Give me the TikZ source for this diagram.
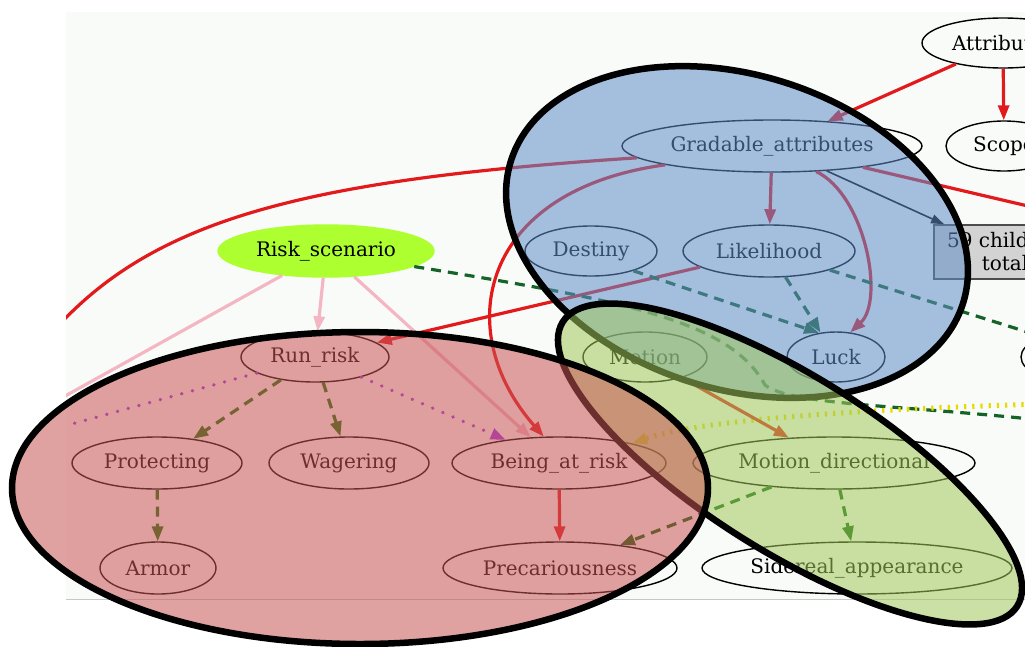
\documentclass[tikz,border=0pt]{standalone}
\usepackage{fontspec}
\setmainfont{DejaVu Serif}
\usetikzlibrary{arrows.meta,shapes.geometric}
\definecolor{gvred}{HTML}{E31A1C}
\definecolor{gvpink}{HTML}{F4B6C2}
\definecolor{gvdkgreen}{HTML}{146428}
\definecolor{gvgreen}{HTML}{0A640A}
\definecolor{gvolive}{HTML}{147308}
\definecolor{gvmagenta}{HTML}{A032E6}
\definecolor{gvyellow}{HTML}{E6DA00}
\definecolor{gvlime}{HTML}{ADFF2F}
\definecolor{gvgrey}{HTML}{D3D3D3}
\definecolor{gvpaper}{HTML}{F9FBF9}
\definecolor{ovred}{RGB}{200,85,85}
\definecolor{ovblue}{RGB}{95,140,200}
\definecolor{ovgreen}{RGB}{160,200,90}
\tikzset{
  gv node/.style={ellipse, draw=black, line width=1.4pt, inner sep=0pt, text=black,
    font=\fontsize{20}{24}\selectfont},
  gv box/.style={rectangle, draw=black!70, fill=gvgrey, line width=1.4pt, inner sep=2pt,
    align=center, text=black, font=\fontsize{20}{23}\selectfont},
  gv line/.style={line width=3.2pt},
  gv edge/.style={gv line, -{Triangle[length=15pt,width=11pt]}},
  gv dash/.style={gv edge, dash pattern=on 10pt off 7pt},
  gv line dash/.style={gv line, dash pattern=on 10pt off 7pt},
  gv dots/.style={gv edge, line cap=round, line width=3.6pt, dash pattern=on 0.1pt off 11pt},
  gv ticks/.style={gv edge, line width=5pt, dash pattern=on 2.2pt off 6pt},
  gv thin/.style={line width=1.6pt, -{Triangle[length=13pt,width=9pt]}},
  gv group/.style={draw=black, line width=6.5pt, fill opacity=0.55}
}
\begin{document}
\begin{tikzpicture}[x=1pt, y=-1pt]
  \useasboundingbox (0,0) rectangle (1025,646);
  \fill[white] (0,0) rectangle (1025,646);
  \fill[gvpaper] (66,12) rectangle (1025,599);
  \draw[black!22, line width=1pt] (66,599) -- (1025,599);
  \begin{scope}
    \clip (66,12) rectangle (1025,599);
    \node[gv node, minimum width=162, minimum height=50] (attr) at (1003,43) {Attributes};
    \node[gv node, minimum width=116, minimum height=50] (scope) at (1004,146) {Scope};
    \node[gv node, minimum width=300, minimum height=52] (grad) at (772,146) {Gradable\_attributes};
    \node[gv node, minimum width=132, minimum height=50] (destiny) at (591,251) {Destiny};
    \node[gv node, minimum width=172, minimum height=52] (lik) at (769,251) {Likelihood};
    \node[gv node, draw=gvlime, fill=gvlime, minimum width=216, minimum height=52] (risk) at (326,251) {Risk\_scenario};
    \node[gv box, minimum width=142, minimum height=54] (kids) at (1005,252) {59 children\\total};
    \node[gv node, minimum width=148, minimum height=50] (runrisk) at (315,357) {Run\_risk};
    \node[gv node, minimum width=124, minimum height=50] (motion) at (645,357) {Motion};
    \node[gv node, minimum width=98, minimum height=50] (luck) at (836,357) {Luck};
    \node[gv node, minimum width=108, minimum height=50] (cut) at (1075,357) {};
    \node[gv node, minimum width=170, minimum height=52] (protect) at (157,463) {Protecting};
    \node[gv node, minimum width=160, minimum height=52] (wager) at (349,463) {Wagering};
    \node[gv node, minimum width=214, minimum height=52] (being) at (559,463) {Being\_at\_risk};
    \node[gv node, minimum width=282, minimum height=52] (motdir) at (834,463) {Motion\_directional};
    \node[gv node, minimum width=116, minimum height=52] (armor) at (158,568) {Armor};
    \node[gv node, minimum width=234, minimum height=52] (precar) at (560,568) {Precariousness};
    \node[gv node, minimum width=310, minimum height=52] (sidereal) at (857,568) {Sidereal\_appearance};
    \coordinate (exitA) at (1045,210);
    \coordinate (exitB) at (50,335);
    \coordinate (exitC) at (1040,336);
    \coordinate (exitD) at (1040,420);
    \coordinate (exitE) at (1040,404);
    \coordinate (exitF) at (50,430);
    \coordinate (exitG) at (40,410);
    \draw[gv edge, gvred] (attr) -- (grad);
    \draw[gv edge, gvred] (attr) -- (scope);
    \draw[gv line, gvred] (grad) -- (exitA);
    \draw[gv line, gvred] (exitB) .. controls (150,220) and (300,180) .. (grad.185);
    \draw[gv edge, gvred] (grad.190) .. controls (480,190) and (450,330) .. (being.120);
    \draw[gv edge, gvred] (lik) -- (runrisk);
    \draw[gv edge, gvred] (grad) -- (lik);
    \draw[gv edge, gvred] (grad.-30) .. controls (865,195) and (885,300) .. (luck.60);
    \draw[gv thin, black] (grad) -- (kids);
    \draw[gv dash, gvdkgreen] (destiny.-25) -- (luck.125);
    \draw[gv dash, gvdkgreen] (lik) -- (luck);
    \draw[gv line dash, gvdkgreen] (lik) -- (exitC);
    \draw[gv line dash, gvdkgreen] (risk.-10) .. controls (620,300) and (730,320) .. (765,385)
      .. controls (790,405) and (900,405) .. (exitD);
    \draw[gv ticks, gvyellow] (exitE) .. controls (850,410) and (700,420) .. (being.15);
    \draw[gv edge, gvred] (motion) -- (motdir);
    \draw[gv dash, gvgreen] (motdir) -- (precar);
    \draw[gv dash, gvgreen] (motdir) -- (sidereal);
    \draw[gv edge, gvred] (being) -- (precar);
    \draw[gv dash, gvolive] (runrisk) -- (protect);
    \draw[gv dash, gvolive] (runrisk) -- (wager);
    \draw[gv dash, gvolive] (protect) -- (armor);
    \draw[gv dots, gvmagenta] (runrisk) -- (being);
    \draw[gv line, line cap=round, line width=3.6pt, dash pattern=on 0.1pt off 11pt, gvmagenta] (runrisk) -- (exitF);
    \draw[gv edge, gvpink] (risk) -- (runrisk);
    \draw[gv edge, gvpink] (risk) -- (being);
    \draw[gv line, gvpink] (risk) -- (exitG);
  \end{scope}
  \begin{scope}
    \clip (0,0) rectangle (1025,646);
    \draw[gv group, fill=ovblue, rotate around={-17.5:(737,232)}] (737,232) ellipse [x radius=237, y radius=157];
    \draw[gv group, fill=ovgreen, rotate around={-32:(790,464)}] (790,464) ellipse [x radius=268, y radius=88];
    \draw[gv group, fill=ovred] (360,488) ellipse [x radius=348, y radius=156];
  \end{scope}
\end{tikzpicture}
\end{document}
